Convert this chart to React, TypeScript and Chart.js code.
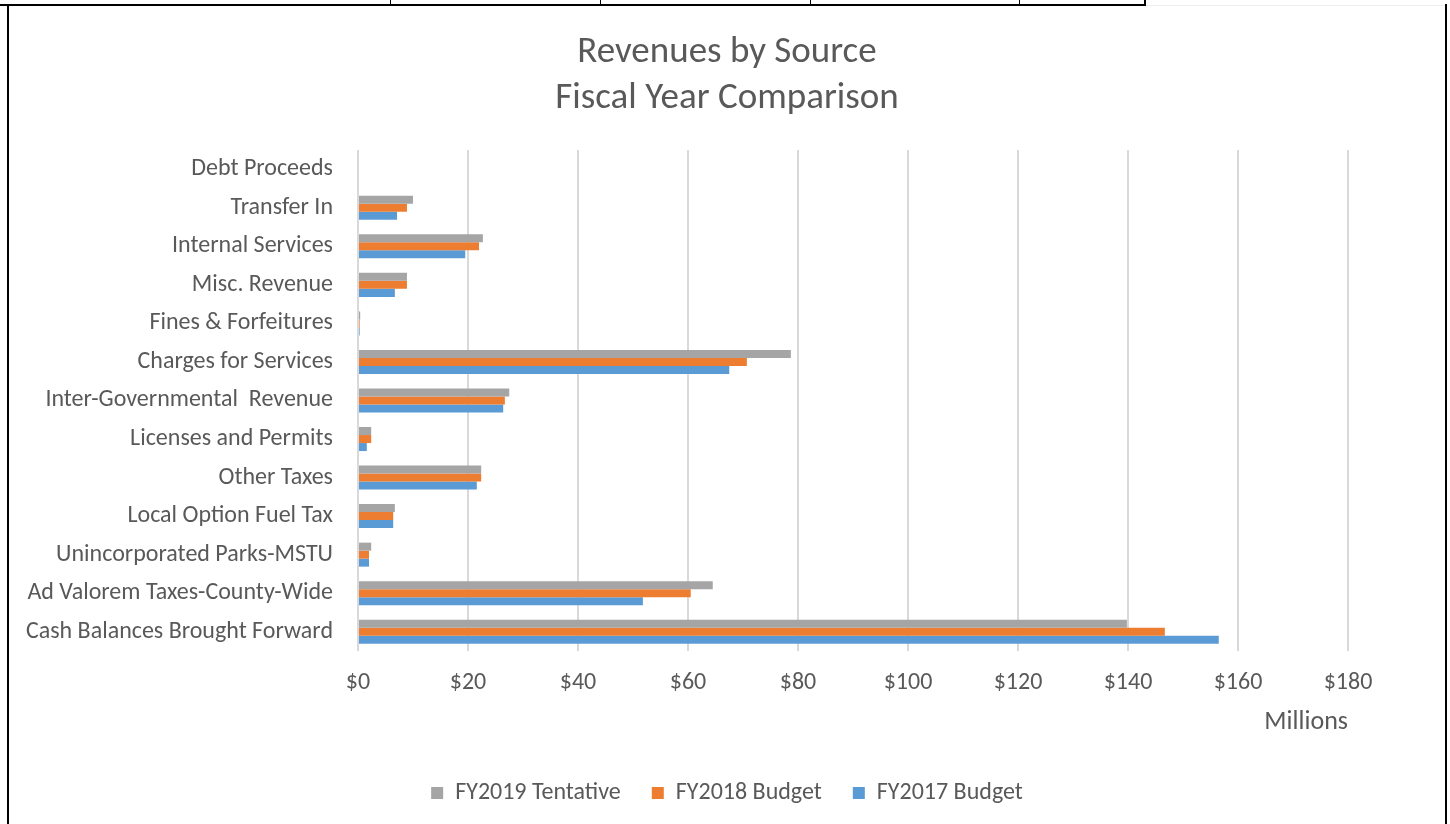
import React, { useEffect, useRef } from "react";
import { Chart, registerables } from "chart.js";

Chart.register(...registerables);

const categories = [
  "Debt Proceeds",
  "Transfer In",
  "Internal Services",
  "Misc. Revenue",
  "Fines & Forfeitures",
  "Charges for Services",
  "Inter-Governmental  Revenue",
  "Licenses and Permits",
  "Other Taxes",
  "Local Option Fuel Tax",
  "Unincorporated Parks-MSTU",
  "Ad Valorem Taxes-County-Wide",
  "Cash Balances Brought Forward",
];

const fy2019Tentative = [0, 10.0, 22.7, 8.9, 0.4, 78.7, 27.5, 2.4, 22.4, 6.7, 2.4, 64.5, 139.8];
const fy2018Budget = [0, 8.9, 22.0, 8.9, 0.3, 70.7, 26.7, 2.4, 22.4, 6.4, 2.0, 60.5, 146.7];
const fy2017Budget = [0, 7.1, 19.5, 6.7, 0.3, 67.5, 26.4, 1.6, 21.6, 6.4, 2.0, 51.8, 156.5];

const seriesNames = ["FY2019 Tentative", "FY2018 Budget", "FY2017 Budget"];
const seriesColors = ["#A5A5A5", "#ED7D31", "#5B9BD5"];

const titleLines = ["Revenues by Source", "Fiscal Year Comparison"];
const axisMax = 180;
const axisStep = 20;
const axisTitle = "Millions";

const FONT = "Carlito, Calibri, Lato, 'Open Sans', sans-serif";
const TEXT = "#595959";

export default function App() {
  const ref = useRef<HTMLCanvasElement | null>(null);

  useEffect(() => {
    if (!ref.current) return;
    const chart = new Chart(ref.current, {
      type: "bar",
      data: {
        labels: categories,
        datasets: [fy2019Tentative, fy2018Budget, fy2017Budget].map((d, i) => ({
          label: seriesNames[i],
          data: d,
          backgroundColor: seriesColors[i],
          borderWidth: 0,
          categoryPercentage: 0.623,
          barPercentage: 1.0,
          yAxisID: "y",
        })),
      },
      options: {
        indexAxis: "y",
        animation: false,
        responsive: false,
        maintainAspectRatio: false,
        layout: { padding: { top: 0, left: 0, right: 0, bottom: 9 } },
        plugins: {
          title: {
            display: true,
            text: titleLines,
            color: TEXT,
            font: { family: FONT, size: 37, weight: "normal", lineHeight: 1.243 },
            padding: { top: 24, bottom: 28 },
          },
          legend: {
            position: "bottom",
            labels: {
              color: TEXT,
              font: { family: FONT, size: 24 },
              boxWidth: 12,
              boxHeight: 12,
              padding: 31,
            },
          },
          tooltip: { enabled: false },
        },
        scales: {
          x: {
            min: 0,
            max: axisMax,
            ticks: {
              stepSize: axisStep,
              color: TEXT,
              font: { family: FONT, size: 24 },
              padding: 18,
              callback: (v: any) => "$" + v,
            },
            grid: { color: "#D9D9D9", lineWidth: 2, drawTicks: false },
            border: { display: false },
            title: {
              display: true,
              text: axisTitle,
              align: "end",
              color: TEXT,
              font: { family: FONT, size: 26 },
              padding: { top: 0, bottom: 12 },
            },
            afterFit: (s: any) => {
              s.height = 99;
            },
          },
          y: {
            ticks: {
              color: TEXT,
              font: { family: FONT, size: 24 },
              padding: 25,
              autoSkip: false,
            },
            grid: { display: false, drawTicks: false },
            border: { display: false },
            afterFit: (s: any) => {
              s.width = 349;
            },
          },
          y2: {
            type: "linear",
            position: "right",
            ticks: { display: false },
            grid: { display: false, drawTicks: false },
            border: { display: false },
            afterFit: (s: any) => {
              s.width = 97;
            },
          },
        },
      },
    });
    return () => chart.destroy();
  }, []);

  const line = (style: React.CSSProperties) => (
    <div style={{ position: "fixed", background: "#000", ...style }} />
  );

  return (
    <div style={{ position: "fixed", left: 0, top: 0, width: 1450, height: 824, background: "#fff" }}>
      {line({ left: 0, top: 4, width: 1146, height: 2 })}
      {line({ left: 390, top: 0, width: 1, height: 5 })}
      {line({ left: 600, top: 0, width: 1, height: 5 })}
      {line({ left: 810, top: 0, width: 1, height: 5 })}
      {line({ left: 1019, top: 0, width: 1, height: 5 })}
      {line({ left: 1144, top: 0, width: 2, height: 5 })}
      {line({ left: 1146, top: 5, width: 301, height: 1, background: "#EDEDED" })}
      {line({ left: 7, top: 4, width: 2, height: 820 })}
      {line({ left: 1445, top: 4, width: 2, height: 820 })}
      <canvas
        ref={ref}
        width={1436}
        height={818}
        style={{ position: "fixed", left: 9, top: 6, width: 1436, height: 818 }}
      />
    </div>
  );
}
